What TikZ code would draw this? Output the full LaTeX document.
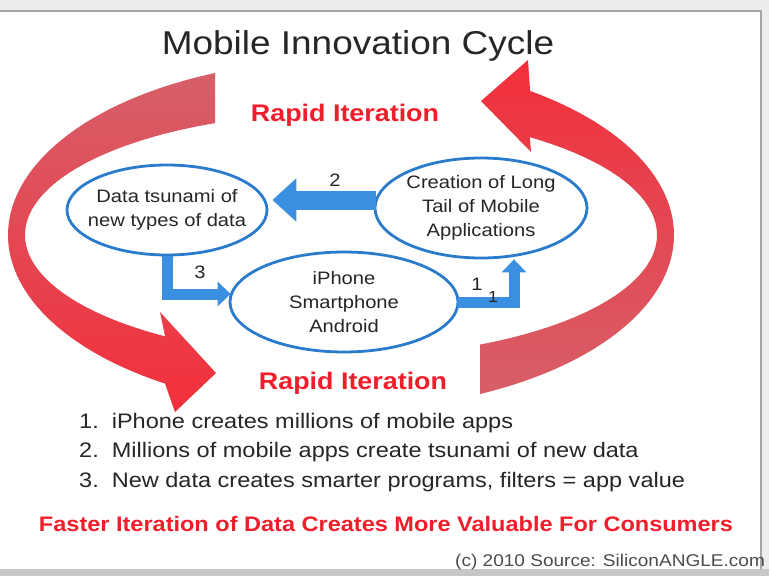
\documentclass[tikz,border=0pt]{standalone}
\usepackage{fontspec}
\setmainfont{Liberation Sans}[FakeStretch=1.12]
\usetikzlibrary{arrows.meta,shapes.geometric,calc}
\definecolor{rosered}{HTML}{D65F69}
\definecolor{brightred}{HTML}{F22F3B}
\definecolor{txtred}{HTML}{F01E2A}
\definecolor{ringblue}{HTML}{2A7BCC}
\definecolor{arrowblue}{HTML}{3B8FE0}
\definecolor{txtdark}{HTML}{262626}
\begin{document}
\begin{tikzpicture}[x=1pt,y=-1pt,
  bub/.style={ellipse, draw=ringblue, line width=2.8pt, fill=white, inner xsep=-12pt, inner ysep=-2pt,
    align=center, text=txtdark, font=\fontsize{18}{24}\selectfont},
  barrow/.style={draw=arrowblue, line width=11pt, -{Triangle[width=24pt,length=13pt]}},
  numlbl/.style={text=txtdark, font=\fontsize{18}{20}\selectfont},
  redbold/.style={text=txtred, font=\bfseries\fontsize{24}{28}\selectfont}]
\useasboundingbox (0,0) rectangle (769,576);
% slide frame
\fill[black!7] (0,0) rectangle (769,576);
\fill[white] (0,12) rectangle (760,569);
\draw[black!35, line width=1.5pt] (0,11) -- (761,11) -- (761,569);
\fill[black!22] (0,569) rectangle (769,576);
% red cycle arrows
\shade[top color=rosered, bottom color=brightred]
  plot[domain=247.8:121.9, samples=80] ({341+333*cos(\x)},{235+175*sin(\x)})
  -- (175,412) -- (216,373) -- (160,312) -- (165,336)
  -- plot[domain=123.8:246.5, samples=80] ({341+316*cos(\x)},{235+122*sin(\x)}) -- cycle;
\shade[top color=brightred, bottom color=rosered]
  plot[domain=65.3:-55.4, samples=80] ({341+333*cos(\x)},{235+175*sin(\x)})
  -- (528,60) -- (481,101) -- (531,152)
  -- plot[domain=-53.3:63.9, samples=80] ({341+316*cos(\x)},{235+122*sin(\x)}) -- cycle;
% title and labels
\node[text=txtdark, font=\fontsize{33}{40}\selectfont] (title) at (358,46) {Mobile Innovation Cycle};
\node[redbold] (ritop) at (345,115) {Rapid Iteration};
\node[redbold] (ribot) at (353,383) {Rapid Iteration};
% bubbles
\node[bub, minimum width=200, minimum height=90] (data) at (167,210) {Data tsunami of\\new types of data};
\node[bub, minimum width=212, minimum height=100] (apps) at (481,208) {Creation of Long\\Tail of Mobile\\Applications};
\node[bub, minimum width=228, minimum height=100] (phone) at (344,302) {iPhone\\Smartphone\\Android};
% blue connectors
\draw[barrow, line width=19pt, -{Triangle[width=42pt,length=24pt]}]
  ($(apps.west)+(2,-8)$) -- ($(data.east)+(4,-10)$);
\draw[barrow] (data.south) |- ($(phone.west)+(2,-8)$);
\draw[barrow] ($(phone.east)+(-2,0)$) -| ($(apps.south)+(33,0)$);
\node[numlbl] (n2) at (335,180) {2};
\node[numlbl] (n3) at (200,272) {3};
\node[numlbl] (n1) at (477,284) {1};
\node[text=txtdark, font=\fontsize{16}{18}\selectfont] (n1b) at (493,297) {1};
% list
\node[anchor=west, text=txtdark, font=\fontsize{21}{29.5}\selectfont, inner sep=0pt] (list) at (79,452)
  {\begin{tabular}{@{}l@{\hspace{13pt}}l@{}}
   1. & iPhone creates millions of mobile apps\\
   2. & Millions of mobile apps create tsunami of new data\\
   3. & New data creates smarter programs, filters = app value
   \end{tabular}};
\node[text=txtred, font=\bfseries\fontsize{21}{25}\selectfont] (faster) at (386,524)
  {Faster Iteration of Data Creates More Valuable For Consumers};
\node[anchor=west, text=black!70, font=\fontsize{17}{20}\selectfont, inner sep=0pt] (src) at (455,562)
  {(c) 2010 Source: SiliconANGLE.com};
\end{tikzpicture}
\end{document}
